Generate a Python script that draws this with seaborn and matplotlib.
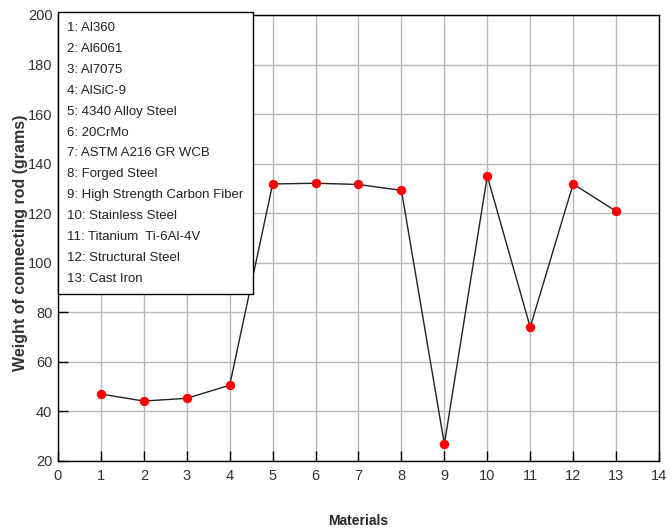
import matplotlib
matplotlib.use("Agg")
import matplotlib.pyplot as plt
import seaborn as sns
from matplotlib.lines import Line2D

materials = ["Al360", "Al6061", "Al7075", "AlSiC-9", "4340 Alloy Steel", "20CrMo",
             "ASTM A216 GR WCB", "Forged Steel", "High Strength Carbon Fiber",
             "Stainless Steel", "Titanium  Ti-6Al-4V", "Structural Steel", "Cast Iron"]
index = list(range(1, 14))
weights = [47.0, 44.2, 45.3, 50.6, 131.8, 132.1, 131.6, 129.2, 26.8, 135.0, 74.0, 131.8, 120.8]
xticks = list(range(0, 15))
yticks = list(range(20, 201, 20))

sns.set_style("white")
plt.rcParams['font.family'] = ['Liberation Sans', 'DejaVu Sans']

fig = plt.figure(figsize=(6.72, 5.29), dpi=100)
ax = fig.add_axes([58/672, 1-461/529, (659-58)/672, (461-15)/529])

sns.lineplot(x=index, y=weights, ax=ax, color='#222222', linewidth=1.0,
             marker='o', markersize=6, markerfacecolor='red', markeredgecolor='red')

ax.set_xlim(0, 14)
ax.set_ylim(20, 200)
ax.set_xticks(xticks)
ax.set_yticks(yticks)
ax.grid(True, color='#b8b8b8', linewidth=1.0)
ax.set_axisbelow(True)
for s in ax.spines.values():
    s.set_color('black')
    s.set_linewidth(1.0)
    s.set_visible(True)
ax.tick_params(axis='both', direction='in', length=7, width=1.0, color='black',
               labelsize=10.5, bottom=True, left=True, labelcolor='#333333')
ax.tick_params(axis='y', pad=4)
ax.tick_params(axis='x', pad=6)

ax.set_xlabel("Materials", fontsize=10, fontweight='bold', labelpad=22)
ax.set_ylabel("Weight of connecting rod (grams)", fontsize=11.5, fontweight='bold',
              color='#333333')
ax.yaxis.set_label_coords(-0.05, 0.49)

handles = [Line2D([], [], linestyle='none') for _ in materials]
labels = [f"{i}: {m}" for i, m in zip(index, materials)]
leg = ax.legend(handles, labels, loc='upper left', bbox_to_anchor=(0, 1.006),
                borderaxespad=0, handlelength=0, handletextpad=0, fontsize=9.5,
                labelspacing=0.66, frameon=True, fancybox=False, borderpad=0.7)
leg.get_frame().set_edgecolor('black')
leg.get_frame().set_linewidth(1.0)
leg.get_frame().set_facecolor('white')
leg.get_frame().set_alpha(1.0)
for t in leg.get_texts():
    t.set_color('#222222')

fig.savefig("out.png", dpi=100)
